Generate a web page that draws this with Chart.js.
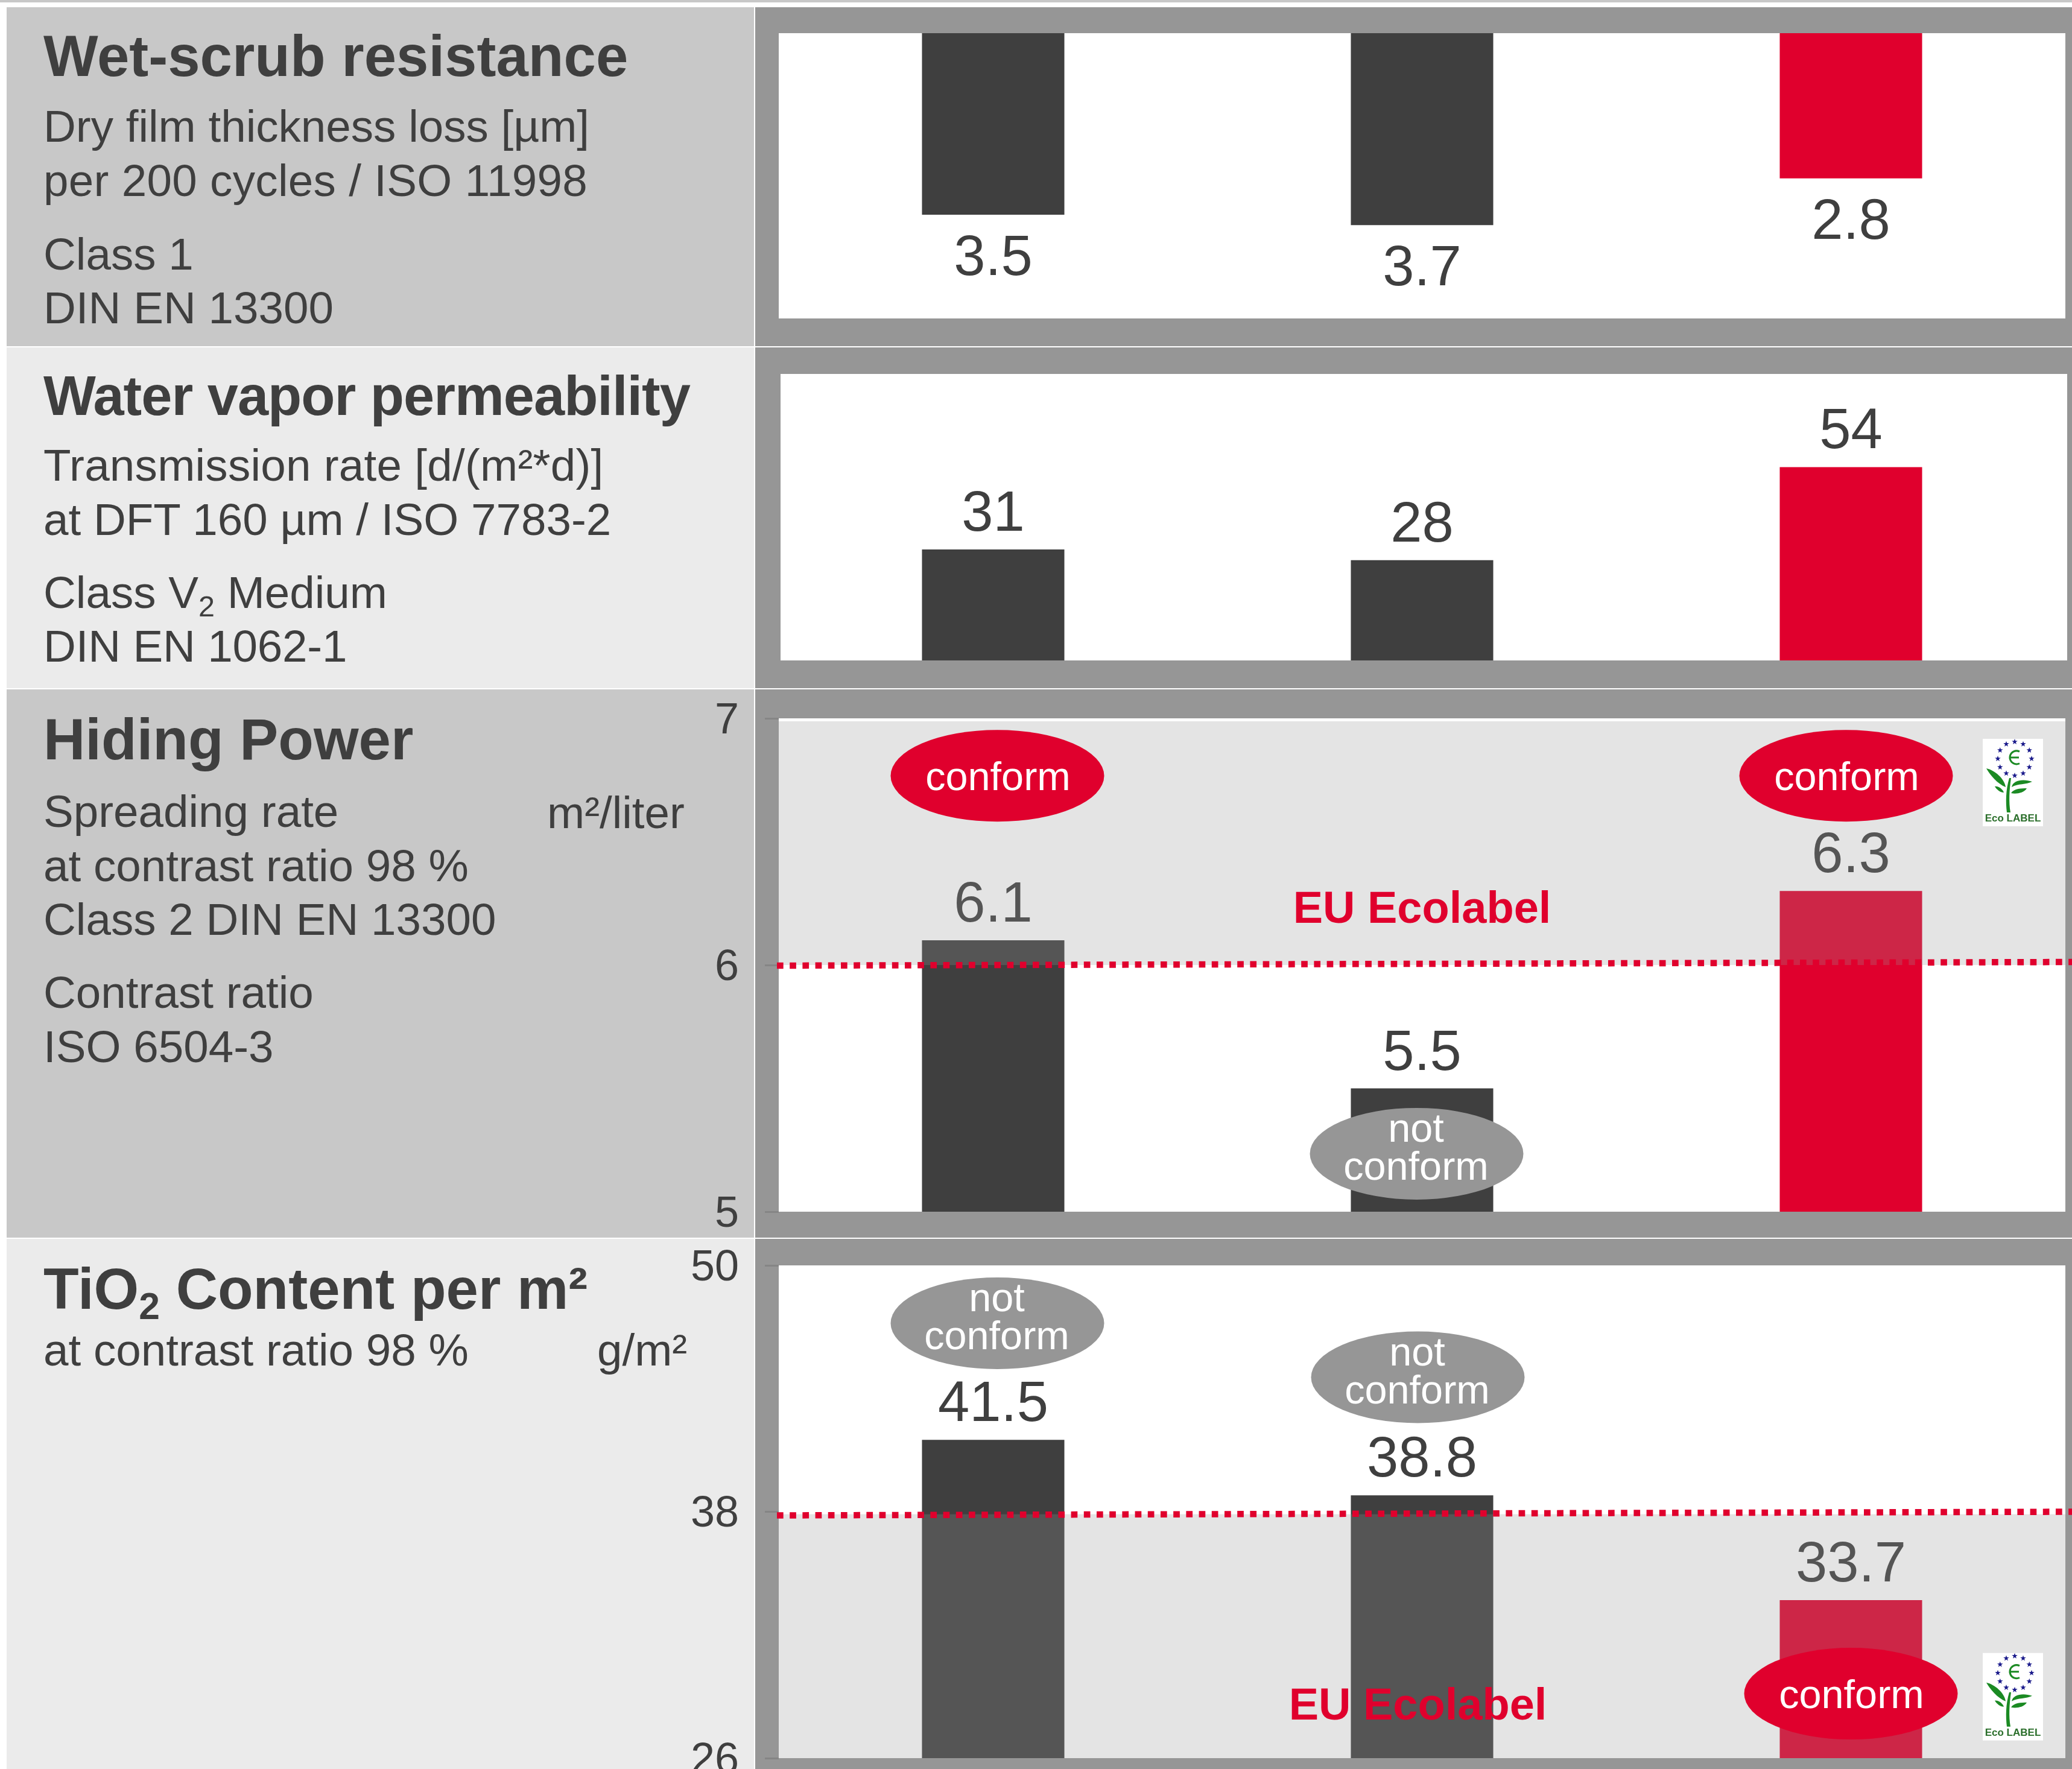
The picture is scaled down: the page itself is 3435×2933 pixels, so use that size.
<!DOCTYPE html>
<html>
<head>
<meta charset="utf-8">
<title>Wet-scrub resistance, water vapor permeability, hiding power, TiO2 content</title>
<script src="https://cdn.jsdelivr.net/npm/chart.js@4"></script>
<style>
  html, body { margin: 0; padding: 0; background: #fff; }
  #page { position: relative; width: 3435px; height: 2933px; overflow: hidden; font-family: "Liberation Sans", Arial, sans-serif; color: #3f3f3f; }
  .box { position: absolute; }
  .dark { background: #c8c8c8; }
  .light { background: #ebebeb; }
  .frame { background: #969696; left: 1252px; width: 2183px; }
  .panel { left: 11px; width: 1239px; }
  .t, .h { position: absolute; left: 72px; line-height: 1; white-space: nowrap; }
  .t { font-size: 74.6px; }
  .h { font-size: 96px; font-weight: bold; }
  sub { font-size: 0.65em; line-height: 0; vertical-align: -0.28em; }
  canvas { position: absolute; left: 1000px; }
</style>
</head>
<body>
<div id="page">
  <div class="box dark" style="left:0;top:0;width:3435px;height:4px"></div>

  <div class="box panel dark" style="top:12px;height:562px"></div>
  <div class="box panel light" style="top:576px;height:565px"></div>
  <div class="box panel dark" style="top:1143px;height:909px"></div>
  <div class="box panel light" style="top:2054px;height:879px"></div>

  <div class="box frame" style="top:12px;height:562px"></div>
  <div class="box frame" style="top:576px;height:565px"></div>
  <div class="box frame" style="top:1143px;height:909px"></div>
  <div class="box frame" style="top:2054px;height:879px"></div>

  <div class="h" style="top:45px">Wet-scrub resistance</div>
  <div class="t" style="top:172px">Dry film thickness loss [µm]</div>
  <div class="t" style="top:262px;letter-spacing:0.3px">per 200 cycles / ISO 11998</div>
  <div class="t" style="top:384px">Class 1</div>
  <div class="t" style="top:473px">DIN EN 13300</div>

  <div class="h" style="top:610px;font-size:92px;letter-spacing:-1px">Water vapor permeability</div>
  <div class="t" style="top:734px;letter-spacing:0.25px">Transmission rate [d/(m²*d)]</div>
  <div class="t" style="top:824px">at DFT 160 µm / ISO 7783-2</div>
  <div class="t" style="top:945px">Class V<sub>2</sub> Medium</div>
  <div class="t" style="top:1034px;letter-spacing:-0.2px">DIN EN 1062-1</div>

  <div class="h" style="top:1178px">Hiding Power</div>
  <div class="t" style="top:1308px">Spreading rate</div>
  <div class="t" style="top:1310px;left:907px">m²/liter</div>
  <div class="t" style="top:1398px">at contrast ratio 98 %</div>
  <div class="t" style="top:1487px">Class 2 DIN EN 13300</div>
  <div class="t" style="top:1608px">Contrast ratio</div>
  <div class="t" style="top:1698px">ISO 6504-3</div>

  <div class="h" style="top:2089px">TiO<sub>2</sub> Content per m²</div>
  <div class="t" style="top:2201px">at contrast ratio 98 %</div>
  <div class="t" style="top:2201px;left:990px">g/m²</div>

  <canvas id="chart-scrub"></canvas>
  <canvas id="chart-vapor"></canvas>
  <canvas id="chart-hiding"></canvas>
  <canvas id="chart-tio2"></canvas>
</div>

<script>
// ==================== data ====================
const categories = ['Product 1', 'Product 2', 'Product 3'];

const scrubLoss = [3.5, 3.7, 2.8];
const vaporRate = [31, 28, 54];
const hidingPower = [6.1, 5.5, 6.3];
const tio2Content = [41.5, 38.8, 33.7];

const hidingTicks = [5, 6, 7];
const tio2Ticks = [26, 38, 50];

const hidingLimit = 6;
const tio2Limit = 38;

const hidingBadges = ['conform', 'not conform', 'conform'];
const tio2Badges = ['not conform', 'not conform', 'conform'];

// ==================== styles ====================
const FONT = '"Liberation Sans", Arial, sans-serif';
const TEXT = '#3f3f3f';
const RED = '#e0002d';
const BADGE_GREY = '#969696';
const barColors = [TEXT, TEXT, RED];

Chart.defaults.font.family = FONT;
Chart.defaults.animation = false;

// the flower logo in the corner of the two limit panels
function drawEcoLogo(ctx, x, y) {
  ctx.save();
  ctx.translate(x, y);
  ctx.fillStyle = '#fff';
  ctx.fillRect(0, 0, 100, 145);

  ctx.fillStyle = '#1c1c8c';
  for (let i = 0; i < 12; i++) {
    const a = i * Math.PI / 6;
    const cx = 53 + 28 * Math.sin(a);
    const cy = 33 - 28 * Math.cos(a);
    ctx.beginPath();
    for (let k = 0; k < 10; k++) {
      const r = k % 2 ? 2 : 5;
      const b = k * Math.PI / 5;
      ctx.lineTo(cx + r * Math.sin(b), cy - r * Math.cos(b));
    }
    ctx.closePath();
    ctx.fill();
  }

  ctx.strokeStyle = '#1b8a23';
  ctx.lineWidth = 3;
  ctx.beginPath();
  ctx.arc(56, 31, 11, 0.35 * Math.PI, 1.65 * Math.PI);
  ctx.stroke();
  ctx.beginPath();
  ctx.moveTo(46, 31);
  ctx.lineTo(60, 31);
  ctx.stroke();

  ctx.fillStyle = '#1b8a23';
  ['M44 65 C38 85 38 105 40 122 L46 122 C43 105 44 85 47 65 Z',
   'M6 49 C20 52 36 66 38 80 C25 75 12 60 6 49 Z',
   'M20 79 C27 78 33 84 35 89 C29 89 23 84 20 79 Z',
   'M48 80 C50 68 68 66 82 71 C72 76 58 74 48 80 Z',
   'M47 90 C52 82 64 82 73 82 C68 90 55 92 47 90 Z'
  ].forEach(p => ctx.fill(new Path2D(p)));

  ctx.fillStyle = '#2a6e2a';
  ctx.font = 'bold 17px ' + FONT;
  ctx.textAlign = 'center';
  ctx.textBaseline = 'alphabetic';
  ctx.fillText('Eco LABEL', 50, 137);
  ctx.restore();
}

// value labels, limit zone, dotted line, badges: all through the chart's scales
const panelPlugin = {
  id: 'panel',
  beforeDraw(chart, args, opts) {
    const a = chart.chartArea;
    const inset = opts.inset || 0;
    chart.ctx.fillStyle = '#fff';
    chart.ctx.fillRect(a.left + inset, a.top, a.right - a.left, a.bottom - a.top);
  },
  afterDatasetsDraw(chart, args, opts) {
    const ctx = chart.ctx;
    const a = chart.chartArea;
    const yScale = chart.scales.y;
    const xScale = chart.scales.x;
    const values = chart.data.datasets[0].data;
    ctx.save();

    // value labels
    ctx.fillStyle = TEXT;
    ctx.font = '94px ' + FONT;
    ctx.textAlign = 'center';
    ctx.textBaseline = 'alphabetic';
    chart.getDatasetMeta(0).data.forEach((bar, i) => {
      const gap = yScale.options.reverse ? 100 : -31;
      ctx.fillText(String(values[i]), bar.x, bar.y + gap);
    });

    if (opts.limit !== undefined) {
      // grey veil over bars and labels on the passing side of the limit
      const yFrom = yScale.getPixelForValue(opts.zoneFrom);
      const yEnd = yScale.getPixelForValue(opts.zoneTo);
      ctx.fillStyle = 'rgba(149,149,149,0.255)';
      ctx.fillRect(a.left, Math.min(yFrom, yEnd), a.right - a.left, Math.abs(yEnd - yFrom));

      const yLimit = yScale.getPixelForValue(opts.limit) + opts.lineShift;
      ctx.strokeStyle = RED;
      ctx.lineWidth = 10.5;
      ctx.setLineDash([10.7, 10.5]);
      ctx.beginPath();
      ctx.moveTo(a.left - 3, yLimit + 3);
      ctx.lineTo(a.right + 11, yLimit - 3);
      ctx.stroke();
      ctx.setLineDash([]);

      ctx.fillStyle = RED;
      ctx.font = 'bold 74px ' + FONT;
      ctx.fillText('EU Ecolabel', xScale.getPixelForValue(1) + opts.ecoLabel.dx, yScale.getPixelForValue(opts.ecoLabel.y));

      opts.badges.forEach((b, i) => {
        const cx = xScale.getPixelForValue(i) + b.dx;
        const cy = yScale.getPixelForValue(b.y);
        const conform = b.text === 'conform';
        ctx.fillStyle = conform ? RED : BADGE_GREY;
        ctx.beginPath();
        ctx.ellipse(cx, cy, 177, 76, 0, 0, Math.PI * 2);
        ctx.fill();
        ctx.fillStyle = '#fff';
        ctx.font = '66.6px ' + FONT;
        if (conform) {
          ctx.fillText(b.text, cx + 1, cy + 24);
        } else {
          const [first, second] = b.text.split(' ');
          ctx.fillText(first, cx - 1, cy - 20);
          ctx.fillText(second, cx - 1, cy + 43);
        }
      });

      drawEcoLogo(ctx, a.right - 137, yScale.getPixelForValue(opts.logoY));
    }
    ctx.restore();
  }
};

// one bar chart per row; the canvas spans from the tick labels to the image edge
function makeRow(id, values, plotLeft, plotTop, plotBottom, plotRight, yOptions, panel) {
  const canvas = document.getElementById(id);
  const padTop = 60;
  const padBottom = 60;
  canvas.width = 3435 - 1000;
  canvas.height = plotBottom - plotTop + padTop + padBottom;
  canvas.style.top = (plotTop - padTop) + 'px';

  const ticks = yOptions.tickValues;
  return new Chart(canvas, {
    type: 'bar',
    data: {
      labels: categories,
      datasets: [{
        data: values,
        backgroundColor: barColors,
        barPercentage: 0.332,
        categoryPercentage: 1
      }]
    },
    options: {
      responsive: false,
      devicePixelRatio: 1,
      layout: { padding: { top: padTop, bottom: padBottom, left: 0, right: 3435 - plotRight } },
      plugins: { legend: { display: false }, tooltip: { enabled: false }, panel: panel },
      scales: {
        x: { display: false },
        y: {
          min: yOptions.min,
          max: yOptions.max,
          reverse: !!yOptions.reverse,
          border: { display: false },
          grid: {
            display: !!ticks,
            drawOnChartArea: false,
            color: '#858585',
            lineWidth: 3,
            tickLength: 23
          },
          ticks: {
            display: !!ticks,
            color: TEXT,
            padding: 43,
            labelOffset: 5,
            font: { size: 72 }
          },
          afterBuildTicks(scale) {
            if (ticks) scale.ticks = ticks.map(v => ({ value: v }));
          },
          afterFit(scale) {
            // keep the plot box where the frame has it, labels may overflow
            scale.width = plotLeft - 1000;
            scale.paddingTop = 0;
            scale.paddingBottom = 0;
          }
        }
      }
    },
    plugins: [panelPlugin]
  });
}

makeRow('chart-scrub', scrubLoss, 1291, 55, 528, 3424, { min: 0, max: 5.5, reverse: true }, {});
makeRow('chart-vapor', vaporRate, 1291, 620, 1095, 3424, { min: 0, max: 80 }, { inset: 3 });
makeRow('chart-hiding', hidingPower, 1291, 1191, 2009, 3424, { min: 5, max: 7, tickValues: hidingTicks }, {
  limit: hidingLimit,
  zoneFrom: hidingLimit,
  zoneTo: 6.988,
  lineShift: -2,
  logoY: 6.917,
  ecoLabel: { dx: 0, y: 6.17 },
  badges: [
    { text: hidingBadges[0], dx: 7, y: 6.767 },
    { text: hidingBadges[1], dx: -9, y: 5.235 },
    { text: hidingBadges[2], dx: -8, y: 6.767 }
  ]
});
makeRow('chart-tio2', tio2Content, 1291, 2098, 2915, 3424, { min: 26, max: 50, tickValues: tio2Ticks }, {
  limit: tio2Limit,
  zoneFrom: 37.88,
  zoneTo: 26,
  lineShift: 3,
  logoY: 31.12,
  ecoLabel: { dx: -7, y: 27.89 },
  badges: [
    { text: tio2Badges[0], dx: 7, y: 47.18 },
    { text: tio2Badges[1], dx: -7, y: 44.55 },
    { text: tio2Badges[2], dx: 0, y: 29.14 }
  ]
});
</script>
</body>
</html>
